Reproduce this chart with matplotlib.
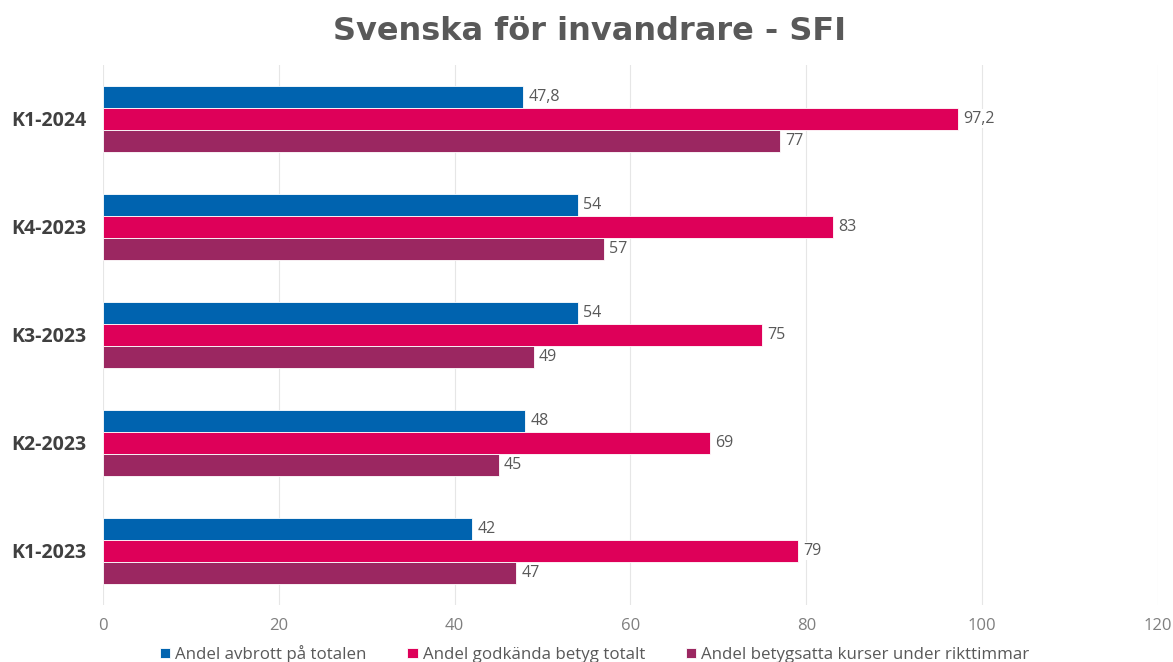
import matplotlib
matplotlib.use("Agg")
import matplotlib.pyplot as plt
import numpy as np

# data (bottom to top as drawn)
kvartal = ["K1-2023", "K2-2023", "K3-2023", "K4-2023", "K1-2024"]
avbrott = [42, 48, 54, 54, 47.8]
godkanda = [79, 69, 75, 83, 97.2]
betygsatta = [47, 45, 49, 57, 77]
serienamn = ["Andel avbrott på totalen", "Andel godkända betyg totalt",
             "Andel betygsatta kurser under rikttimmar"]
farger = ["#0063AF", "#DE0059", "#9B2761"]

plt.rcParams['font.family'] = ['Open Sans', 'DejaVu Sans']

fig = plt.figure(figsize=(11.73, 6.62), dpi=100)
ax = fig.add_axes([0.0878, 0.0861, 0.8994, 0.8159])

y = np.arange(len(kvartal))
h = 0.205
for i, (vals, namn, farg) in enumerate(zip([avbrott, godkanda, betygsatta], serienamn, farger)):
    pos = y + (1 - i) * h
    ax.barh(pos, vals, height=h, color=farg, label=namn, edgecolor="white", linewidth=0.6, zorder=3)
    for p, v in zip(pos, vals):
        txt = f"{v:g}".replace(".", ",")
        ax.text(v + 0.6, p, txt, va="center", ha="left", fontsize=11.5, color="#595959",
                bbox=dict(facecolor="white", edgecolor="none", pad=1.0), zorder=4)

ax.set_xlim(0, 120)
ax.set_ylim(-0.5, 4.5)
ax.set_xticks(np.arange(0, 121, 20))
ax.set_yticks(y)
ax.set_yticklabels(kvartal, fontsize=14, fontweight="bold", color="#404040")
ax.tick_params(axis="x", colors="#7f7f7f", labelsize=12, length=0, pad=9)
ax.tick_params(axis="y", length=0, pad=12)
ax.grid(axis="x", color="#e6e6e6", linewidth=0.8, zorder=0)
for s in ax.spines.values():
    s.set_visible(False)

fig.text(0.503, 0.952, "Svenska för invandrare - SFI", fontsize=23, fontweight="bold",
         color="#595959", ha="center", va="center", family=["DejaVu Sans"])

leg = fig.legend(loc="center", bbox_to_anchor=(0.507, 0.012), ncol=3, frameon=False,
                 fontsize=12.2, handlelength=0.6, handleheight=0.6, handletextpad=0.3,
                 columnspacing=2.4, labelcolor="#595959", borderaxespad=0, borderpad=0)

fig.savefig("out.png", dpi=100)
